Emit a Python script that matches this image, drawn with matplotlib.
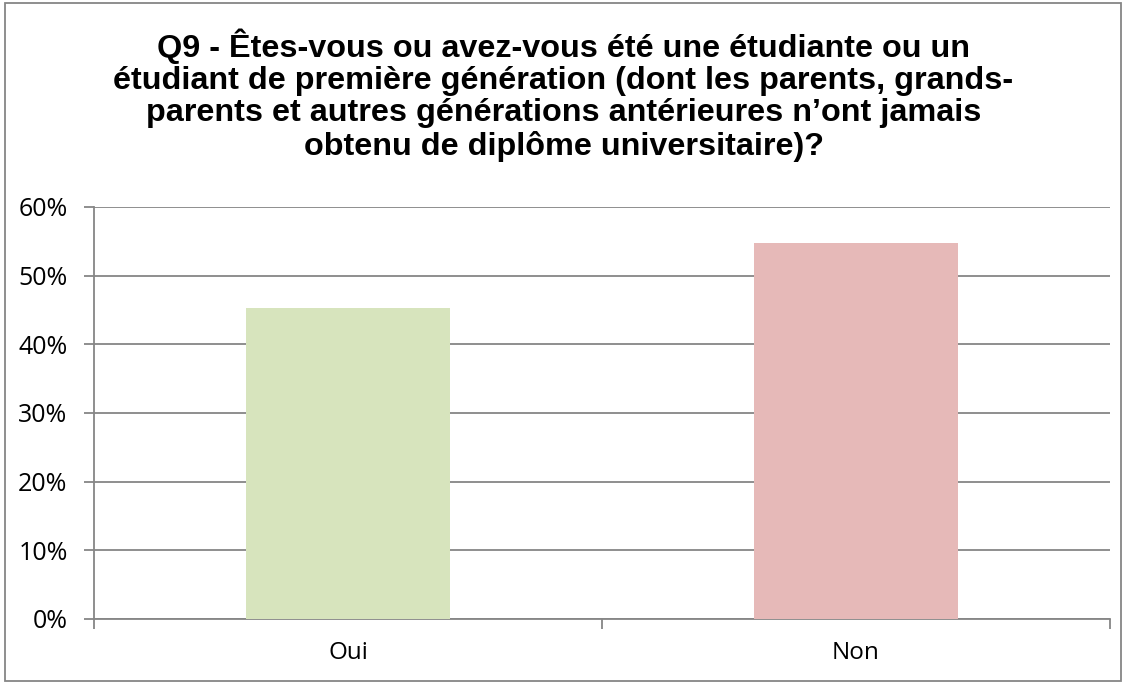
import matplotlib
matplotlib.use("Agg")
import matplotlib.pyplot as plt
from matplotlib.patches import Rectangle
from matplotlib.ticker import FuncFormatter, MultipleLocator

categories = ["Oui", "Non"]
values = [45.3, 54.7]
colors = ["#D7E4BD", "#E6B9B8"]
title = ("Q9 - Êtes-vous ou avez-vous été une étudiante ou un\n"
         "étudiant de première génération (dont les parents, grands-\n"
         "parents et autres générations antérieures n’ont jamais\n"
         "obtenu de diplôme universitaire)?")

W, H = 1127, 683
fig = plt.figure(figsize=(W / 100, H / 100), dpi=100)
ax = fig.add_axes([94 / W, 1 - 619 / H, (1110 - 94) / W, (619 - 207) / H])

x = list(range(len(categories)))
ax.bar(x, values, width=0.4, color=colors, zorder=3)
ax.set_xlim(-0.5, len(categories) - 0.5)
ax.set_ylim(0, 60)
ax.yaxis.set_major_locator(MultipleLocator(10))
ax.yaxis.set_major_formatter(FuncFormatter(lambda v, p: f"{v:.0f}%"))
ax.grid(axis="y", color="#868686", linewidth=1.3, zorder=0)
ax.set_xticks(x)
ax.set_xticklabels(categories, family="Open Sans", fontsize=17.5)
ax.set_xticks([-0.5, 0.5, 1.5], minor=True)
ax.tick_params(axis="x", which="major", length=0, pad=16)
ax.tick_params(axis="x", which="minor", length=7, color="#868686", width=1.3)
ax.tick_params(axis="y", length=7, color="#868686", width=1.3, pad=12)
for lbl in ax.get_yticklabels():
    lbl.set_family("Open Sans")
    lbl.set_fontsize(18)
for s in ["top", "right"]:
    ax.spines[s].set_visible(False)
for s in ["left", "bottom"]:
    ax.spines[s].set_color("#868686")
    ax.spines[s].set_linewidth(1.3)

fig.text(0.5, 1 - 95 / H, title, ha="center", va="center", fontsize=23.3,
         fontweight="bold", family="Liberation Sans", linespacing=1.1)

fig.patches.append(Rectangle((5 / W, 2 / H), (1121 - 5) / W, (680 - 2) / H,
                             transform=fig.transFigure, fill=False,
                             edgecolor="#868686", linewidth=1.3))
fig.savefig("out.png", dpi=100)
